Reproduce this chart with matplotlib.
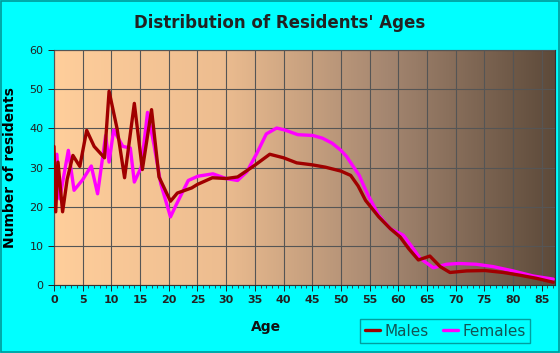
import matplotlib
matplotlib.use('Agg')
import matplotlib.pyplot as plt
import numpy as np
from matplotlib.colors import LinearSegmentedColormap

# values
male_age = [0, 0.3, 0.7, 1.5, 2.3, 3.3, 4.5, 5.7, 7, 8.8, 9.6, 11, 12.3, 14, 15.4,
            17, 18.3, 20.3, 21.5, 24, 25, 27.6, 30, 32, 35, 37.6, 40, 42.3, 45,
            47.3, 50, 51.7, 53, 54.3, 56.6, 58.6, 60.3, 61.8, 63.5, 65.5, 67.3, 69,
            71.9, 75.1, 78.3, 81.2, 84.1, 87]
males = [35.4, 18.7, 31.4, 18.7, 27, 33.1, 30.3, 39.5, 35.4, 32.5, 49.5, 39.9,
         27.4, 46.4, 29.5, 44.8, 27.6, 21.4, 23.5, 24.8, 25.7, 27.4, 27.2, 27.6,
         30.6, 33.4, 32.5, 31.2, 30.7, 30.1, 29.1, 28, 25.3, 21.6, 17.4, 14.4, 12.3,
         9.3, 6.4, 7.4, 4.7, 3.2, 3.6, 3.7, 3.2, 2.5, 1.7, 0.7]

female_age = [0, 0.5, 1, 2.5, 3.5, 5, 6.5, 7.6, 9, 9.6, 10.4, 12, 13.3, 14, 15.2,
              16.3, 17.4, 18.6, 20.3, 21.3, 23.4, 25.1, 27.7, 30, 32, 33.6, 35.3,
              37, 38.8, 40.2, 42.5, 45.1, 46.8, 48.5, 50, 51, 52, 53.2, 53.9, 54.9,
              56.6, 58.6, 60.9, 62.6, 63.8, 66.1, 68.4, 70.5, 73.6, 76.5, 80, 83.5, 87]
females = [22, 33.4, 22, 34.4, 24.2, 26.9, 30.4, 23.3, 38.2, 31.4, 39.6, 35.4,
           35, 26.3, 30.1, 44.1, 36, 25.9, 17.4, 20.5, 26.7, 27.8, 28.4, 27.2,
           26.7, 28.9, 33.5, 38.6, 40.1, 39.6, 38.4, 38.2, 37.5, 36.2, 34.4, 32.8,
           30.6, 28, 25.6, 22.5, 17.8, 14.4, 12.7, 9.3, 6.8, 4.4, 5.3, 5.5, 5.3, 4.7,
           3.6, 2.3, 1.5]

x_ticks = list(range(0, 90, 5))
y_ticks = list(range(0, 70, 10))

fig = plt.figure(figsize=(5.6, 3.53), dpi=100, facecolor='#00FFFF')
fig.patches.append(plt.Rectangle((0.002, 0.003), 0.996, 0.994, transform=fig.transFigure,
                                 fill=False, edgecolor='#009999', linewidth=1.2))
ax = fig.add_axes([0.0964, 0.1926, 0.8946, 0.6654])

xmax = 87.3
bg = LinearSegmentedColormap.from_list('bg', ['#FFCE9B', '#EDBD90', '#A48670', '#5D4A3A'])
ax.imshow(np.linspace(0, 1, 256)[None, :], cmap=bg, aspect='auto',
          extent=[0, xmax, 0, 60], zorder=0)

ax.plot(female_age, females, color='#FF00FF', lw=2.4, zorder=3, label='Females',
        solid_joinstyle='round', solid_capstyle='round')
ax.plot(male_age, males, color='#A00000', lw=2.4, zorder=4, label='Males',
        solid_joinstyle='round', solid_capstyle='round')

ax.set_xlim(0, xmax)
ax.set_ylim(0, 60)
ax.set_xticks(x_ticks)
ax.set_xticks(np.arange(0, 88, 1), minor=True)
ax.set_yticks(y_ticks)
ax.grid(True, which='major', color='#555555', lw=0.8, zorder=1)
ax.set_axisbelow(False)
for s in ax.spines.values():
    s.set_color('#333333')
    s.set_linewidth(0.8)
ax.tick_params(axis='both', labelsize=8, colors='#222222', length=4, width=0.7)
ax.tick_params(axis='x', which='minor', length=2.5, width=0.6, colors='#333333')
for lab in ax.get_xticklabels():
    lab.set_fontweight('bold')

ax.set_ylabel('Number of residents', fontsize=10, fontweight='bold', labelpad=9)
fig.text(0.475, 0.073, 'Age', ha='center', va='center', fontsize=10,
         fontweight='bold', color='#111111')
fig.text(0.5, 0.935, "Distribution of Residents' Ages", ha='center', va='center',
         fontsize=12, fontweight='bold', color='#222222')

h, l = ax.get_legend_handles_labels()
leg = fig.legend(h[::-1], l[::-1], loc='center', bbox_to_anchor=(0.795, 0.062), ncol=2,
                 fontsize=11, frameon=True, fancybox=False, handlelength=1.0,
                 handletextpad=0.3, columnspacing=0.9, borderpad=0.3)
leg.get_frame().set_facecolor('#00FFFF')
leg.get_frame().set_edgecolor('#008888')
for t in leg.get_texts():
    t.set_color('#115555')

fig.savefig('out.png', dpi=100, facecolor=fig.get_facecolor())
